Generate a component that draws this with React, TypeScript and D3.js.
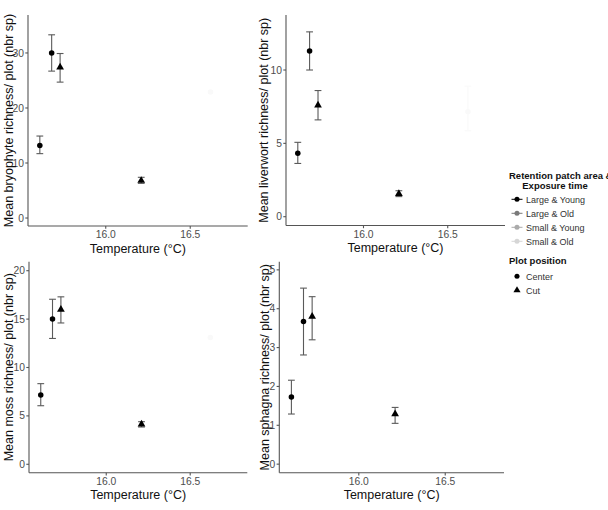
import React from "react";
import * as d3 from "d3";

// ---- data ----
const groupLabels = ["Large & Young", "Large & Old", "Small & Young", "Small & Old"];
const groupColors = ["#000000", "#7a7a7a", "#ababab", "#d6d6d6"];
const positionLabels = ["Center", "Cut"];

// observations (same temperature / group / position for every panel)
const temperature = [15.61, 15.68, 15.73, 16.21, 16.62];
const obsGroup = ["Large & Young", "Large & Young", "Large & Young", "Large & Young", "Small & Old"];
const obsPosition = ["Center", "Center", "Cut", "Cut", "Center"];

const bryophyteMean = [13.2, 30.0, 27.4, 6.8, 22.9];
const bryophyteLow = [11.7, 26.7, 24.7, 6.3, null];
const bryophyteHigh = [14.9, 33.3, 29.9, 7.4, null];

const liverwortMean = [4.33, 11.3, 7.6, 1.57, 7.15];
const liverwortLow = [3.63, 10.0, 6.6, 1.37, 5.86];
const liverwortHigh = [5.07, 12.6, 8.6, 1.77, 8.9];

const mossMean = [7.16, 15.0, 16.0, 4.13, 13.1];
const mossLow = [6.05, 13.0, 14.6, 3.85, null];
const mossHigh = [8.33, 17.05, 17.3, 4.4, null];

const sphagnaMean = [1.73, 3.67, 3.8, 1.29, null];
const sphagnaLow = [1.29, 2.81, 3.2, 1.05, null];
const sphagnaHigh = [2.16, 4.53, 4.31, 1.46, null];

const xTicks = [16.0, 16.5];
const xDomain = [15.54, 16.84];
const bryoTicks = [0, 10, 20, 30];
const liverTicks = [0, 5, 10];
const mossTicks = [0, 5, 10, 15, 20];
const sphagnaTicks = [0, 1, 2, 3, 4, 5];

const FONT = "'Liberation Sans', Arial, sans-serif";
const AXIS = "#555555";
const FAINT = "#f9f9f9";

type PanelProps = {
  title: string;
  mean: (number | null)[];
  low: (number | null)[];
  high: (number | null)[];
  yDomain: number[];
  yTicks: number[];
  x0: number; x1: number; y0: number; y1: number;
  titleX: number;
};

function Panel(p: PanelProps) {
  const x = d3.scaleLinear().domain(xDomain).range([p.x0, p.x1]);
  const y = d3.scaleLinear().domain(p.yDomain).range([p.y1, p.y0]);
  const tri = d3.symbol(d3.symbolTriangle, 26)() as string;
  const circ = d3.symbol(d3.symbolCircle, 24)() as string;
  const cap = 3.4;
  return (
    <g>
      <line x1={p.x0} x2={p.x0} y1={p.y0} y2={p.y1} stroke={AXIS} strokeWidth={1.1} />
      <line x1={p.x0} x2={p.x1} y1={p.y1} y2={p.y1} stroke={AXIS} strokeWidth={1.1} />
      {p.yTicks.map((t) => (
        <g key={"y" + t}>
          <line x1={p.x0 - 2.7} x2={p.x0} y1={y(t)} y2={y(t)} stroke={AXIS} strokeWidth={1.1} />
          <text x={p.x0 - 4} y={y(t) + 3.6} textAnchor="end" fontSize={10.3} fill="#4d4d4d" fontFamily={FONT}>{t}</text>
        </g>
      ))}
      {xTicks.map((t) => (
        <g key={"x" + t}>
          <line x1={x(t)} x2={x(t)} y1={p.y1} y2={p.y1 + 2.7} stroke={AXIS} strokeWidth={1.1} />
          <text x={x(t)} y={p.y1 + 12} textAnchor="middle" fontSize={10.3} fill="#4d4d4d" fontFamily={FONT}>{t.toFixed(1)}</text>
        </g>
      ))}
      <text x={(p.x0 + p.x1) / 2} y={p.y1 + 26.5} textAnchor="middle" fontSize={12.5} fill="#111" fontFamily={FONT}>Temperature (°C)</text>
      <text transform={`translate(${p.titleX},${(p.y0 + p.y1) / 2}) rotate(-90)`} textAnchor="middle" fontSize={12.5} fill="#111" fontFamily={FONT}>{p.title}</text>
      {temperature.map((t, i) => {
        const lo = p.low[i], hi = p.high[i];
        if (lo == null || hi == null || p.mean[i] == null) return null;
        const col = obsGroup[i] === "Small & Old" ? FAINT : "#5a5a5a";
        const cx = x(t);
        return (
          <g key={"e" + i} stroke={col} strokeWidth={1.1}>
            <line x1={cx} x2={cx} y1={y(lo)} y2={y(hi)} />
            <line x1={cx - cap} x2={cx + cap} y1={y(lo)} y2={y(lo)} />
            <line x1={cx - cap} x2={cx + cap} y1={y(hi)} y2={y(hi)} />
          </g>
        );
      })}
      {temperature.map((t, i) => {
        const m = p.mean[i];
        if (m == null) return null;
        const col = obsGroup[i] === "Small & Old" ? FAINT : groupColors[groupLabels.indexOf(obsGroup[i])];
        return (
          <path key={"p" + i} d={obsPosition[i] === "Cut" ? tri : circ}
            transform={`translate(${x(t)},${y(m)})`} fill={col} />
        );
      })}
    </g>
  );
}

function Legend() {
  const tri = d3.symbol(d3.symbolTriangle, 22)() as string;
  const circ = d3.symbol(d3.symbolCircle, 20)() as string;
  const kx = 517;
  return (
    <g fontFamily={FONT}>
      <text x={509} y={179} fontSize={9.5} fontWeight="bold" fill="#111">Retention patch area &amp;</text>
      <text x={555} y={188.5} fontSize={9.5} fontWeight="bold" fill="#111" textAnchor="middle">Exposure time</text>
      {groupLabels.map((g, i) => {
        const cy = 199.3 + i * 14;
        return (
          <g key={g}>
            <line x1={kx - 5.5} x2={kx + 5.5} y1={cy} y2={cy} stroke={groupColors[i]} strokeWidth={1} />
            <path d={circ} transform={`translate(${kx},${cy})`} fill={groupColors[i]} />
            <text x={526} y={cy + 3.2} fontSize={9} fill="#333">{g}</text>
          </g>
        );
      })}
      <text x={509} y={264} fontSize={9.5} fontWeight="bold" fill="#111">Plot position</text>
      {positionLabels.map((pl, i) => {
        const cy = 276.3 + i * 14;
        return (
          <g key={pl}>
            <path d={pl === "Cut" ? tri : circ} transform={`translate(${kx},${cy})`} fill="#000" />
            <text x={526} y={cy + 3.2} fontSize={9} fill="#333">{pl}</text>
          </g>
        );
      })}
    </g>
  );
}

export default function App() {
  return (
    <svg width={608} height={510} style={{ position: "absolute", left: 0, top: 0, background: "#fff" }}>
      <rect width={608} height={510} fill="#fff" />
      <Panel title="Mean bryophyte richness/ plot (nbr sp)" mean={bryophyteMean} low={bryophyteLow} high={bryophyteHigh}
        yDomain={[-1.45, 36.9]} yTicks={bryoTicks} x0={28} x1={247.7} y0={15} y1={226} titleX={12.8} />
      <Panel title="Mean liverwort richness/ plot (nbr sp)" mean={liverwortMean} low={liverwortLow} high={liverwortHigh}
        yDomain={[-0.6, 13.75]} yTicks={liverTicks} x0={286} x1={505} y0={15} y1={225.5} titleX={268.3} />
      <Panel title="Mean moss richness/ plot (nbr sp)" mean={mossMean} low={mossLow} high={mossHigh}
        yDomain={[-0.87, 20.93]} yTicks={mossTicks} x0={29} x1={247.3} y0={261.7} y1={472.7} titleX={12.8} />
      <Panel title="Mean sphagna richness/ plot (nbr sp)" mean={sphagnaMean} low={sphagnaLow} high={sphagnaHigh}
        yDomain={[-0.22, 5.21]} yTicks={sphagnaTicks} x0={279.3} x1={504} y0={261.7} y1={472.7} titleX={268.5} />
      <Legend />
    </svg>
  );
}
